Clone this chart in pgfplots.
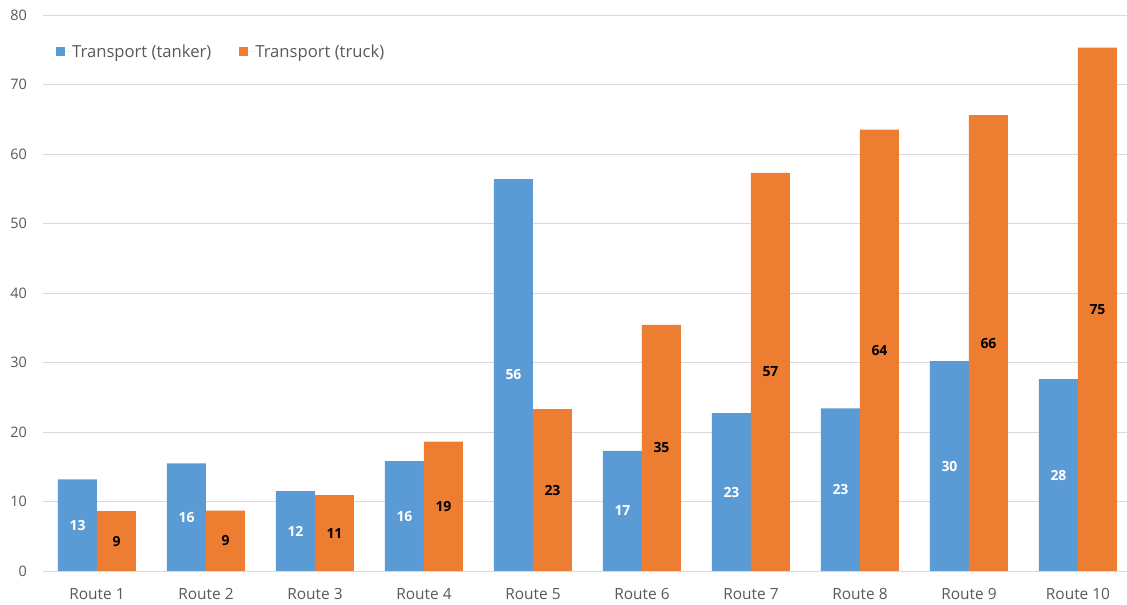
\documentclass[border=0pt]{standalone}
\usepackage{pgfplots}
\pgfplotsset{compat=1.18}
\usepackage{fontspec}
\setmainfont{Open Sans}
\definecolor{cblue}{HTML}{5B9BD5}
\definecolor{corange}{HTML}{ED7D31}
\definecolor{cgrid}{HTML}{D9D9D9}
\definecolor{ctext}{HTML}{595959}
\begin{document}
\begin{tikzpicture}
\begin{axis}[
  scale only axis,
  width=1084.5bp, height=556bp,
  ybar=0pt, bar width=39bp,
  xmin=-0.5, xmax=9.45,
  ymin=0, ymax=80,
  ytick={0,10,...,80},
  xtick={0,...,9},
  xticklabels={Route 1,Route 2,Route 3,Route 4,Route 5,Route 6,Route 7,Route 8,Route 9,Route 10},
  ymajorgrids, grid style={cgrid, line width=0.9bp},
  axis line style={draw=none},
  major tick length=0pt,
  tick label style={text=ctext, inner sep=0pt},
  /pgf/number format/assume math mode=true,
  yticklabel style={font=\fontsize{14.5}{16}\selectfont, anchor=east, xshift=-15.5bp},
  xticklabel style={font=\fontsize{15.5}{17}\selectfont, anchor=base, yshift=-28bp},
  legend columns=2,
  legend style={at={(0.01245,0.934)}, anchor=west, draw=none, fill=none, inner sep=0pt,
    font=\fontsize{16.7}{18}\selectfont, text=ctext,
    nodes={inner sep=0pt, anchor=west},
    /tikz/every even column/.append style={column sep=28bp}},
  legend image code/.code={\fill[#1, draw=none] (0bp,-4.5bp) rectangle (9bp,4.5bp); \path (9bp,0bp) -- (16bp,0bp);},
  visualization depends on=rawy \as \rawy,
  nodes near coords={\pgfmathprintnumber[fixed,precision=0]{\pgfplotspointmeta}},
  every node near coord/.append style={anchor=center, font=\fontsize{14}{16}\selectfont\bfseries, shift={(axis direction cs:0,-\rawy/2)}},
]
\addplot[fill=cblue, draw=none, nodes near coords style={text=white}] coordinates {
  (0,13.2) (1,15.5) (2,11.5) (3,15.8) (4,56.4) (5,17.3) (6,22.7) (7,23.4) (8,30.2) (9,27.6)};
\addlegendentry{Transport (tanker)}
\addplot[fill=corange, draw=none, nodes near coords style={text=black}] coordinates {
  (0,8.6) (1,8.7) (2,10.9) (3,18.6) (4,23.3) (5,35.4) (6,57.3) (7,63.5) (8,65.6) (9,75.3)};
\addlegendentry{Transport (truck)}
\end{axis}
\pgfresetboundingbox
\useasboundingbox (-42.5bp,-34bp) rectangle (1084.5bp,571bp);
\end{tikzpicture}
\end{document}
